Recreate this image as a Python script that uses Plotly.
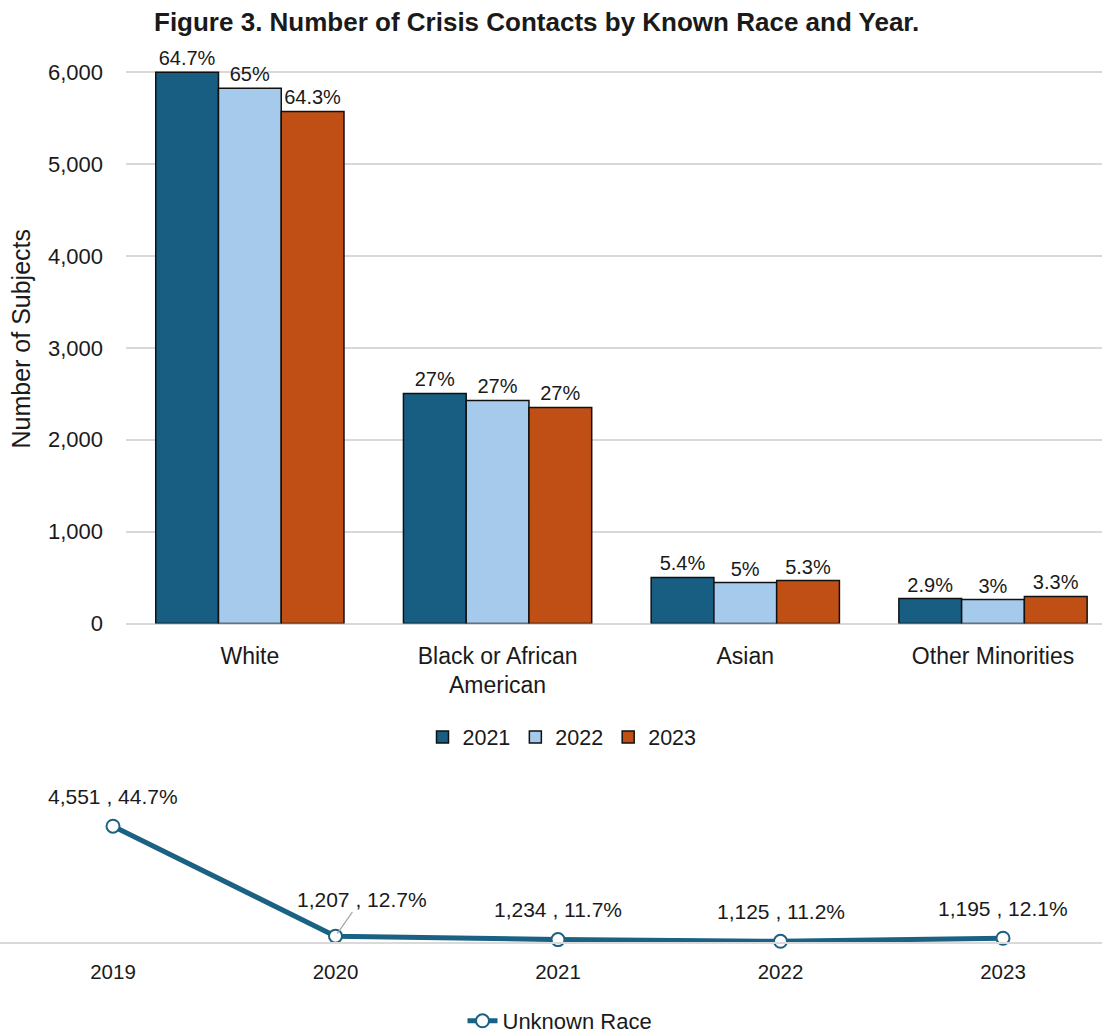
import plotly.graph_objects as go

# ---- data ----
categories = ["White", "Black or African<br>American", "Asian", "Other Minorities"]
years = ["2021", "2022", "2023"]
counts_2021 = [6000, 2505, 501, 272]
counts_2022 = [5826, 2428, 446, 261]
counts_2023 = [5575, 2352, 468, 294]
pct_2021 = ["64.7%", "27%", "5.4%", "2.9%"]
pct_2022 = ["65%", "27%", "5%", "3%"]
pct_2023 = ["64.3%", "27%", "5.3%", "3.3%"]

unknown_years = [2019, 2020, 2021, 2022, 2023]
unknown_counts = ["4,551", "1,207", "1,234", "1,125", "1,195"]
unknown_pct = [44.7, 12.7, 11.7, 11.2, 12.1]

colors = ["#175E82", "#A6CAEC", "#C04F15"]
line_color = "#1A6183"
FONT = "Liberation Sans"
TXT = "#1a1a1a"

W, H = 1102, 1035


def fy(y):
    """paper fraction for a pixel row"""
    return 1 - y / H


fig = go.Figure()

series = [(counts_2021, pct_2021), (counts_2022, pct_2022), (counts_2023, pct_2023)]
for yr, (vals, pcts), col in zip(years, series, colors):
    fig.add_trace(go.Bar(
        x=categories, y=vals, name=yr, text=pcts, textposition="outside",
        textfont=dict(size=20, color=TXT, family=FONT),
        marker=dict(color=col, line=dict(color="#111111", width=1.5)),
        cliponaxis=False, xaxis="x", yaxis="y", legend="legend",
    ))

fig.add_trace(go.Scatter(
    x=unknown_years, y=unknown_pct, name="Unknown Race", mode="lines+markers",
    line=dict(color=line_color, width=5),
    marker=dict(symbol="circle", size=13, color="white", line=dict(color=line_color, width=2)),
    xaxis="x2", yaxis="y2", legend="legend2", cliponaxis=False,
))

annotations = []
for yr, c, p in zip(unknown_years, unknown_counts, unknown_pct):
    label = f"{c} , {p:g}%"
    if yr == 2020:
        annotations.append(dict(
            x=yr, y=p, xref="x2", yref="y2", text=label, showarrow=True,
            arrowhead=0, arrowwidth=1.2, arrowcolor="#A6A6A6", ax=26, ay=-37,
            standoff=3, font=dict(size=21, color=TXT, family=FONT),
        ))
    else:
        annotations.append(dict(
            x=yr, y=p, xref="x2", yref="y2", text=label, showarrow=False,
            yshift=30, font=dict(size=21, color=TXT, family=FONT),
        ))

annotations.append(dict(
    text="<b>Figure 3. Number of Crisis Contacts by Known Race and Year.</b>",
    x=536 / W, y=fy(22), xref="paper", yref="paper", showarrow=False,
    xanchor="center", yanchor="middle", font=dict(size=26, color=TXT, family=FONT),
))

fig.update_layout(
    width=W, height=H,
    margin=dict(l=0, r=0, t=0, b=0, autoexpand=False),
    paper_bgcolor="white", plot_bgcolor="white",
    font=dict(family=FONT, color=TXT),
    barmode="group", bargap=0.24, bargroupgap=0,
    showlegend=True,
    annotations=annotations,
    xaxis=dict(
        domain=[126 / W, 1], range=[-0.5, 3.44],
        showline=False, showgrid=False, ticks="",
        tickfont=dict(size=23, color=TXT, family=FONT), ticklabelstandoff=16,
        anchor="y",
    ),
    yaxis=dict(
        domain=[fy(623.5), fy(54)], range=[0, 6200],
        dtick=1000, tickformat=",", showgrid=True, gridcolor="#D9D9D9", gridwidth=1.5,
        zeroline=True, zerolinecolor="#D9D9D9", zerolinewidth=1.5,
        tickfont=dict(size=22, color=TXT, family=FONT), ticklabelstandoff=22,
        title=dict(text="Number of Subjects", font=dict(size=25, color=TXT, family=FONT), standoff=10),
        anchor="x",
    ),
    xaxis2=dict(
        domain=[0, 1], range=[2019 - 113 / 222.5, 2023 + 99 / 222.5],
        tickvals=unknown_years, ticktext=[str(y) for y in unknown_years],
        showline=True, linecolor="#D9D9D9", linewidth=1.5, showgrid=False, ticks="",
        tickfont=dict(size=20.5, color=TXT, family=FONT), ticklabelstandoff=11,
        anchor="y2",
    ),
    yaxis2=dict(
        domain=[fy(942), fy(808)], range=[11, 50],
        visible=False, anchor="x2",
    ),
    legend=dict(
        orientation="h", x=562 / W, y=fy(737), xanchor="center", yanchor="middle",
        xref="container", yref="container",
        font=dict(size=21.5, color=TXT, family=FONT),
    ),
    legend2=dict(
        orientation="h", x=560 / W, y=fy(1021), xanchor="center", yanchor="middle",
        xref="container", yref="container",
        font=dict(size=22, color=TXT, family=FONT),
    ),
)

fig.write_html("out.html")
